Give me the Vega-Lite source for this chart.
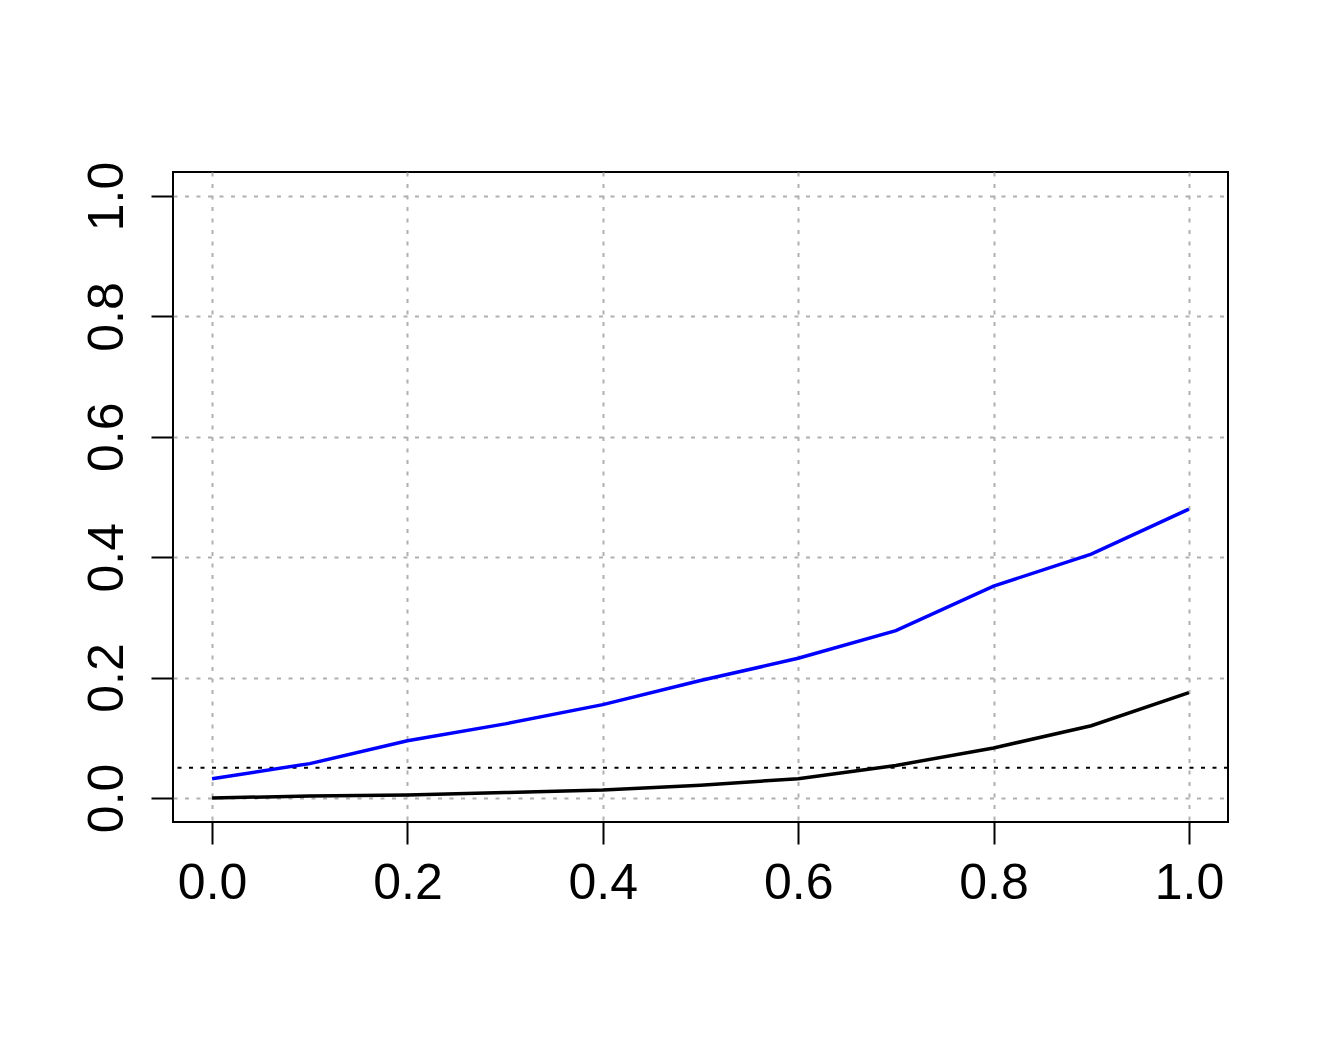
{
  "$schema": "https://vega.github.io/schema/vega-lite/v6.json",
  "width": 1055,
  "height": 650,
  "autosize": {"type": "none"},
  "padding": {"left": 173, "top": 172, "right": 89, "bottom": 216},
  "background": "white",
  "config": {
    "view": {"stroke": "black", "strokeWidth": 2},
    "axis": {
      "domain": false,
      "grid": true,
      "gridColor": "#b0b0b0",
      "gridDash": [4, 7.5],
      "gridWidth": 2,
      "gridOpacity": 1,
      "tickColor": "black",
      "tickWidth": 2,
      "tickSize": 22,
      "labelFont": "Liberation Sans",
      "labelFontSize": 50,
      "labelColor": "black",
      "title": null
    }
  },
  "datasets": {
    "curves": [
      {"x": 0.0, "y": 0.032, "series": "blue"},
      {"x": 0.1, "y": 0.057, "series": "blue"},
      {"x": 0.2, "y": 0.095, "series": "blue"},
      {"x": 0.3, "y": 0.123, "series": "blue"},
      {"x": 0.4, "y": 0.155, "series": "blue"},
      {"x": 0.5, "y": 0.195, "series": "blue"},
      {"x": 0.6, "y": 0.232, "series": "blue"},
      {"x": 0.7, "y": 0.278, "series": "blue"},
      {"x": 0.8, "y": 0.352, "series": "blue"},
      {"x": 0.9, "y": 0.405, "series": "blue"},
      {"x": 1.0, "y": 0.480, "series": "blue"},
      {"x": 0.0, "y": 0.000, "series": "black"},
      {"x": 0.1, "y": 0.003, "series": "black"},
      {"x": 0.2, "y": 0.005, "series": "black"},
      {"x": 0.3, "y": 0.009, "series": "black"},
      {"x": 0.4, "y": 0.013, "series": "black"},
      {"x": 0.5, "y": 0.021, "series": "black"},
      {"x": 0.6, "y": 0.032, "series": "black"},
      {"x": 0.7, "y": 0.054, "series": "black"},
      {"x": 0.8, "y": 0.083, "series": "black"},
      {"x": 0.9, "y": 0.120, "series": "black"},
      {"x": 1.0, "y": 0.175, "series": "black"}
    ],
    "ref": [{"y": 0.05}]
  },
  "layer": [
    {
      "data": {"name": "ref"},
      "mark": {"type": "rule", "color": "black", "strokeWidth": 2, "strokeDash": [4, 7.5]},
      "encoding": {
        "y": {
          "field": "y", "type": "quantitative",
          "scale": {"domain": [-0.04, 1.04], "nice": false, "zero": false}
        }
      }
    },
    {
      "data": {"name": "curves"},
      "mark": {"type": "line", "strokeWidth": 3.5},
      "encoding": {
        "x": {
          "field": "x", "type": "quantitative",
          "scale": {"domain": [-0.04, 1.04], "nice": false, "zero": false},
          "axis": {"values": [0, 0.2, 0.4, 0.6, 0.8, 1.0], "format": ".1f", "labelPadding": 14, "labelFlush": false}
        },
        "y": {
          "field": "y", "type": "quantitative",
          "scale": {"domain": [-0.04, 1.04], "nice": false, "zero": false},
          "axis": {"values": [0, 0.2, 0.4, 0.6, 0.8, 1.0], "format": ".1f", "labelAngle": -90, "labelAlign": "center", "labelBaseline": "bottom", "labelPadding": 19, "labelFlush": false}
        },
        "detail": {"field": "series"},
        "color": {"field": "series", "type": "nominal", "scale": {"domain": ["blue", "black"], "range": ["#0000ff", "#000000"]}, "legend": null}
      }
    }
  ]
}
